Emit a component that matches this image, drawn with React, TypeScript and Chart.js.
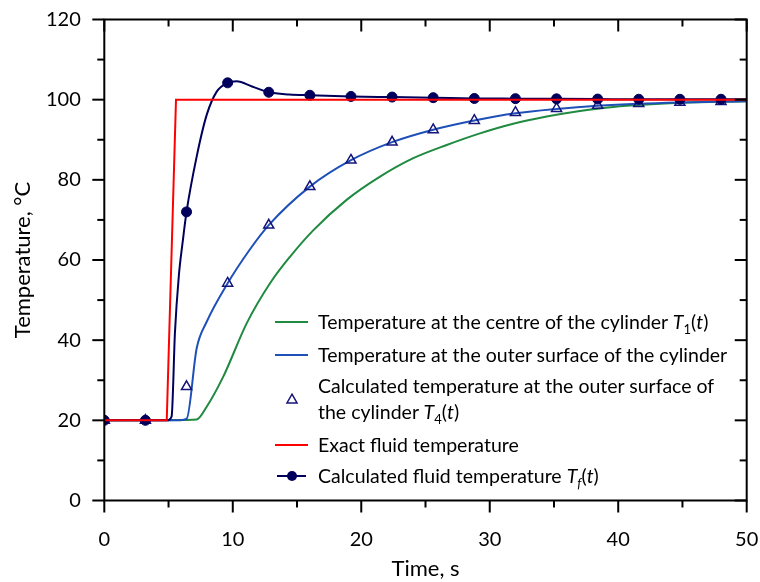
import React, { useEffect, useRef } from "react";
import { Chart, registerables } from "chart.js";

Chart.register(...registerables);

// ---- Data (time in s, temperature in °C) ----
const centreTime = [0, 6.4, 7.19, 7.97, 9.26, 11.08, 12.9, 14.45, 16.26, 18.86, 21.46, 24.05, 26.65, 29.24, 31.83, 34.43, 37.02, 39.61, 44.8, 50];
const centreTemp = [20, 20.1, 20.2, 23.4, 30.9, 44.2, 54.2, 60.8, 67.4, 75.0, 80.8, 85.4, 88.7, 91.6, 94.0, 95.8, 97.2, 98.2, 99.2, 99.6];

const surfaceTime = [0, 5.63, 6.41, 7.19, 7.97, 9.6, 11.3, 12.8, 16, 19.2, 22.4, 25.6, 28.8, 32, 35.2, 38.4, 41.6, 44.8, 48, 50];
const surfaceTemp = [20, 20, 20.4, 38.0, 44.6, 54.2, 62.5, 68.7, 78.3, 84.9, 89.4, 92.5, 94.8, 96.6, 97.7, 98.5, 99.0, 99.3, 99.5, 99.6];

const calcSurfaceTime = [0, 3.2, 6.4, 9.6, 12.8, 16, 19.2, 22.4, 25.6, 28.8, 32, 35.2, 38.4, 41.6, 44.8, 48];
const calcSurfaceTemp = [20, 20, 28.4, 54.2, 68.7, 78.3, 84.9, 89.4, 92.5, 94.8, 96.8, 97.8, 98.6, 99.0, 99.3, 99.5];

const exactFluidTime = [0, 4.86, 5.58, 50];
const exactFluidTemp = [20, 20, 100, 100];

const fluidLineTime = [0, 3.2, 4.9, 5.24, 5.5, 5.8, 6.1, 6.4, 7.19, 7.97, 8.75, 9.6, 10.3, 11.5, 12.8, 14.4, 16, 19.2, 22.4, 25.6, 28.8, 32, 35.2, 38.4, 41.6, 44.8, 48, 50];
const fluidLineTemp = [20, 20, 20, 21, 42, 56, 64.5, 72, 85.8, 96.2, 102.0, 104.2, 104.6, 103.3, 101.85, 101.3, 101.1, 100.8, 100.65, 100.5, 100.3, 100.25, 100.2, 100.15, 100.1, 100.1, 100.1, 100.1];

const fluidMarkTime = [0, 3.2, 6.4, 9.6, 12.8, 16, 19.2, 22.4, 25.6, 28.8, 32, 35.2, 38.4, 41.6, 44.8, 48];
const fluidMarkTemp = [20, 20, 72, 104.2, 101.85, 101.1, 100.8, 100.65, 100.5, 100.3, 100.25, 100.2, 100.15, 100.1, 100.1, 100.1];

const xMin = 0, xMax = 50, xStep = 10, xMinor = 5;
const yMin = 0, yMax = 120, yStep = 20, yMinor = 10;

const xTitle = "Time, s";
const yTitle = "Temperature, °C";

const FONT = "Lato, 'Open Sans', sans-serif";
const C_CENTRE = "#1f8a40";
const C_SURFACE = "#1f50b8";
const C_CALC = "#14147a";
const C_EXACT = "#ff0000";
const C_FLUID = "#00005c";

const pts = (xs: number[], ys: number[]) => xs.map((x, i) => ({ x, y: ys[i] }));

const framePlugin = {
  id: "frame",
  afterDraw(chart: any) {
    const { ctx, chartArea: a, scales } = chart;
    const xs = scales.x, ys = scales.y;
    ctx.save();
    ctx.strokeStyle = "#000";
    ctx.lineWidth = 2;
    ctx.lineCap = "butt";
    const seg = (x1: number, y1: number, x2: number, y2: number) => {
      ctx.beginPath();
      ctx.moveTo(x1, y1);
      ctx.lineTo(x2, y2);
      ctx.stroke();
    };
    ctx.beginPath();
    ctx.rect(a.left, a.top, a.right - a.left, a.bottom - a.top);
    ctx.stroke();
    for (let v = yMin; v <= yMax; v += yMinor) {
      const y = ys.getPixelForValue(v);
      const len = v % yStep === 0 ? 12 : 7;
      seg(a.left - len, y, a.left, y);
      seg(a.right - len, y, a.right, y);
    }
    for (let v = xMin; v <= xMax; v += xMinor) {
      const x = xs.getPixelForValue(v);
      const len = v % xStep === 0 ? 12 : 7;
      seg(x, a.bottom, x, a.bottom + len);
      seg(x, a.top, x, a.top + len);
    }
    // legend symbols
    const lx1 = 275, lx2 = 308, cx = 292;
    ctx.lineWidth = 2;
    ctx.strokeStyle = C_CENTRE;
    seg(lx1, 322, lx2, 322);
    ctx.strokeStyle = C_SURFACE;
    seg(lx1, 355, lx2, 355);
    ctx.strokeStyle = C_EXACT;
    seg(lx1, 445, lx2, 445);
    ctx.strokeStyle = C_FLUID;
    seg(lx1 + 2, 476, lx2 - 2, 476);
    ctx.fillStyle = C_FLUID;
    ctx.beginPath();
    ctx.arc(cx, 476, 5, 0, Math.PI * 2);
    ctx.fill();
    // triangle
    const r = 5.8, ty = 400;
    ctx.strokeStyle = C_CALC;
    ctx.lineWidth = 1.5;
    ctx.beginPath();
    for (let k = 0; k < 3; k++) {
      const ang = (k * 2 * Math.PI) / 3;
      const px = cx + Math.sin(ang) * r;
      const py = ty - Math.cos(ang) * r;
      if (k === 0) ctx.moveTo(px, py);
      else ctx.lineTo(px, py);
    }
    ctx.closePath();
    ctx.stroke();
    ctx.restore();
  },
};

const It = ({ children }: { children: React.ReactNode }) => <span style={{ fontStyle: "italic" }}>{children}</span>;
const Sub = ({ children }: { children: React.ReactNode }) => (
  <span style={{ fontSize: 13, position: "relative", top: 5 }}>{children}</span>
);

export default function App() {
  const ref = useRef<HTMLCanvasElement | null>(null);

  useEffect(() => {
    if (!ref.current) return;
    const tickFont = { family: FONT, size: 20 };
    const titleFont = { family: FONT, size: 22 };
    const chart = new Chart(ref.current, {
      type: "line",
      data: {
        datasets: [
          {
            label: "Exact fluid temperature",
            data: pts(exactFluidTime, exactFluidTemp),
            borderColor: C_EXACT,
            borderWidth: 2,
            pointRadius: 0,
            tension: 0,
            order: 0,
          },
          {
            label: "Calculated fluid temperature markers",
            data: pts(fluidMarkTime, fluidMarkTemp),
            showLine: false,
            pointStyle: "circle",
            pointRadius: 5,
            backgroundColor: C_FLUID,
            borderColor: C_FLUID,
            borderWidth: 1,
            order: 1,
          },
          {
            label: "Calculated fluid temperature",
            data: pts(fluidLineTime, fluidLineTemp),
            borderColor: C_FLUID,
            borderWidth: 2,
            pointRadius: 0,
            cubicInterpolationMode: "monotone",
            order: 2,
          },
          {
            label: "Calculated temperature at the outer surface",
            data: pts(calcSurfaceTime, calcSurfaceTemp),
            showLine: false,
            pointStyle: "triangle",
            pointRadius: 5.8,
            backgroundColor: "rgba(255,255,255,0)",
            borderColor: C_CALC,
            borderWidth: 1.5,
            order: 3,
          },
          {
            label: "Temperature at the outer surface",
            data: pts(surfaceTime, surfaceTemp),
            borderColor: C_SURFACE,
            borderWidth: 2,
            pointRadius: 0,
            cubicInterpolationMode: "monotone",
            order: 4,
          },
          {
            label: "Temperature at the centre",
            data: pts(centreTime, centreTemp),
            borderColor: C_CENTRE,
            borderWidth: 2,
            pointRadius: 0,
            cubicInterpolationMode: "monotone",
            order: 5,
          },
        ],
      },
      options: {
        animation: false,
        responsive: false,
        devicePixelRatio: 1,
        layout: { padding: { top: 19.5, right: 13.3, left: 0, bottom: 0 } },
        plugins: { legend: { display: false }, tooltip: { enabled: false } },
        scales: {
          x: {
            type: "linear",
            min: xMin,
            max: xMax,
            ticks: { stepSize: xStep, font: tickFont, color: "#000", padding: 27.5, maxRotation: 0 },
            grid: { display: false, drawTicks: false },
            border: { display: false },
            title: { display: true, text: xTitle, font: titleFont, color: "#000", padding: { top: 0, bottom: 0 } },
            afterFit: (s: any) => {
              s.height = 81.5;
              s.paddingLeft = 0;
              s.paddingRight = 0;
            },
          },
          y: {
            type: "linear",
            min: yMin,
            max: yMax,
            ticks: { stepSize: yStep, font: tickFont, color: "#000", padding: 23.5 },
            grid: { display: false, drawTicks: false },
            border: { display: false },
            title: { display: true, text: yTitle, font: titleFont, color: "#000", padding: { top: 10, bottom: 0 } },
            afterFit: (s: any) => {
              s.width = 104.3;
              s.paddingTop = 0;
              s.paddingBottom = 0;
            },
          },
        },
      },
      plugins: [framePlugin],
    } as any);
    return () => chart.destroy();
  }, []);

  const row: React.CSSProperties = {
    position: "absolute",
    left: 318,
    fontFamily: FONT,
    fontSize: 19.5,
    lineHeight: "26px",
    color: "#000",
    whiteSpace: "nowrap",
  };

  return (
    <div style={{ position: "absolute", left: 0, top: 0, width: 760, height: 582, background: "#fff" }}>
      <canvas ref={ref} width={760} height={582} style={{ display: "block" }} />
      <div style={{ ...row, top: 322 - 13 }}>
        Temperature at the centre of the cylinder <It>T</It>
        <Sub>1</Sub>(<It>t</It>)
      </div>
      <div style={{ ...row, top: 355 - 13 }}>Temperature at the outer surface of the cylinder</div>
      <div style={{ ...row, top: 386 - 13 }}>
        Calculated temperature at the outer surface of
        <br />
        the cylinder <It>T</It>
        <Sub>4</Sub>(<It>t</It>)
      </div>
      <div style={{ ...row, top: 445 - 13 }}>Exact fluid temperature</div>
      <div style={{ ...row, top: 476 - 13 }}>
        Calculated fluid temperature <It>T</It>
        <Sub>
          <It>f</It>
        </Sub>
        (<It>t</It>)
      </div>
    </div>
  );
}
